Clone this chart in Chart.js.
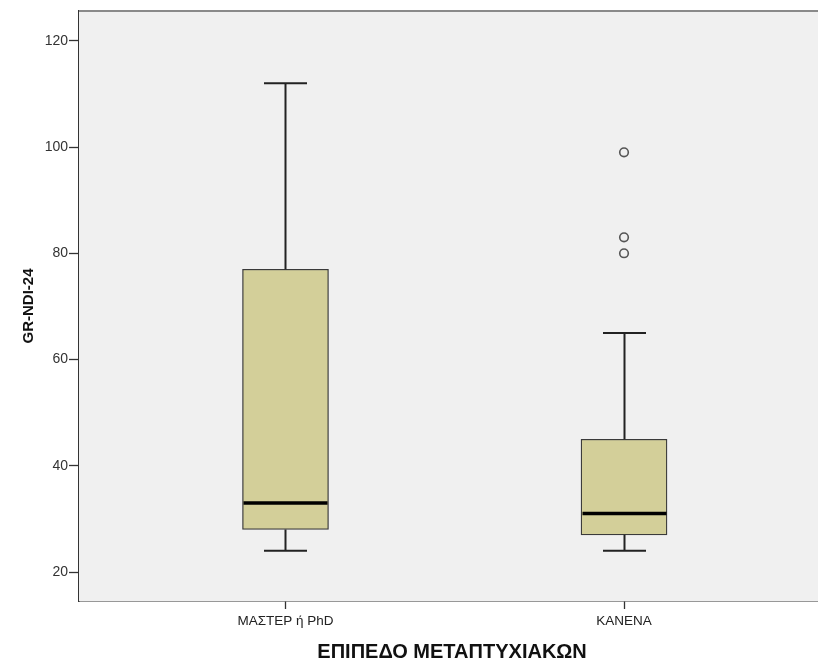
<!DOCTYPE html>
<html>
<head>
<meta charset="utf-8">
<script src="https://cdn.jsdelivr.net/npm/chart.js@4.4.1/dist/chart.umd.min.js"></script>
<style>
html,body{margin:0;padding:0;background:#fff;overflow:hidden;width:818px;height:661px;}
canvas{display:block;}
</style>
</head>
<body>
<canvas id="c" width="831" height="661"></canvas>
<script>
const categories = ["ΜΑΣΤΕΡ ή PhD", "ΚΑΝΕΝΑ"];
const whiskerLow = [24, 24];
const q1 = [28, 27];
const median = [33, 31];
const q3 = [77, 45];
const whiskerHigh = [112, 65];
const outlierCategory = [1, 1, 1];
const outlierValues = [99, 83, 80];
const yTicks = [20, 40, 60, 80, 100, 120];

const boxData = categories.map((c, i) => ({ x: i, y: [q1[i], q3[i]] }));
const outlierData = outlierValues.map((v, i) => ({ x: outlierCategory[i], y: v }));

const plotBg = {
  id: 'plotBg',
  beforeDatasetsDraw(chart) {
    const { ctx, chartArea: a } = chart;
    ctx.save();
    ctx.fillStyle = '#F0F0F0';
    ctx.fillRect(a.left, a.top, a.right - a.left, a.bottom - a.top);
    ctx.strokeStyle = '#8a8a8a';
    ctx.lineWidth = 2;
    ctx.beginPath();
    ctx.moveTo(a.left, a.top);
    ctx.lineTo(a.right + 20, a.top);
    ctx.stroke();
    ctx.restore();
  }
};

const boxExtras = {
  id: 'boxExtras',
  afterDatasetsDraw(chart) {
    const { ctx, scales: { x, y } } = chart;
    const boxW = 86, capW = 43;
    ctx.save();
    categories.forEach((c, i) => {
      const cx = Math.round(x.getPixelForValue(i)) + 0.5;
      ctx.strokeStyle = '#222';
      ctx.lineWidth = 2;
      ctx.beginPath();
      ctx.moveTo(cx, y.getPixelForValue(q3[i]));
      ctx.lineTo(cx, y.getPixelForValue(whiskerHigh[i]));
      ctx.moveTo(cx, y.getPixelForValue(q1[i]));
      ctx.lineTo(cx, y.getPixelForValue(whiskerLow[i]));
      ctx.stroke();
      ctx.beginPath();
      const yh = y.getPixelForValue(whiskerHigh[i]);
      const yl = y.getPixelForValue(whiskerLow[i]);
      ctx.moveTo(cx - capW / 2, yh); ctx.lineTo(cx + capW / 2, yh);
      ctx.moveTo(cx - capW / 2, yl); ctx.lineTo(cx + capW / 2, yl);
      ctx.stroke();
      ctx.strokeStyle = '#000';
      ctx.lineWidth = 3.5;
      ctx.beginPath();
      const ym = y.getPixelForValue(median[i]);
      ctx.moveTo(cx - boxW / 2 + 1, ym); ctx.lineTo(cx + boxW / 2 - 1, ym);
      ctx.stroke();
    });
    ctx.restore();
  }
};

new Chart(document.getElementById('c'), {
  type: 'bar',
  data: {
    datasets: [
      {
        type: 'bar',
        data: boxData,
        backgroundColor: '#D3CF99',
        borderColor: '#3a3a3a',
        borderWidth: 1.3,
        borderSkipped: false,
        barThickness: 86,
        order: 2
      },
      {
        type: 'scatter',
        data: outlierData,
        pointStyle: 'circle',
        pointRadius: 4.3,
        pointBackgroundColor: 'rgba(0,0,0,0)',
        pointBorderColor: '#555',
        pointBorderWidth: 1.6,
        order: 1
      }
    ]
  },
  options: {
    responsive: false,
    animation: false,
    events: [],
    layout: { padding: { top: 11, right: 0, left: 0, bottom: 0 } },
    plugins: { legend: { display: false }, tooltip: { enabled: false } },
    scales: {
      x: {
        type: 'linear',
        offset: false,
        min: -0.61,
        max: 1.594,
        afterBuildTicks(scale) { scale.ticks = categories.map((c, i) => ({ value: i })); },
        afterFit(scale) { scale.height = 60; },
        grid: { offset: false, drawOnChartArea: false, drawTicks: true, tickLength: 8, tickColor: '#333', tickWidth: 1.3 },
        border: { display: true, color: '#333', width: 1.5 },
        ticks: {
          autoSkip: false,
          maxRotation: 0,
          padding: 4,
          color: '#222',
          font: { family: 'Liberation Sans, Arial, sans-serif', size: 13.5 },
          callback(v) { return categories[v] !== undefined ? categories[v] : ''; }
        },
        title: {
          display: true,
          text: 'ΕΠΙΠΕΔΟ ΜΕΤΑΠΤΥΧΙΑΚΩΝ',
          color: '#111',
          font: { family: 'Liberation Sans, Arial, sans-serif', size: 20, weight: 'bold', lineHeight: 0.9 },
          padding: { top: 0, bottom: 0 }
        }
      },
      y: {
        type: 'linear',
        min: 14.55,
        max: 125.6,
        afterBuildTicks(scale) { scale.ticks = yTicks.map(v => ({ value: v })); },
        afterFit(scale) { scale.width = 79; },
        grid: { drawOnChartArea: false, drawTicks: true, tickLength: 10, tickColor: '#333', tickWidth: 1.3 },
        border: { display: true, color: '#333', width: 1.5 },
        ticks: {
          padding: 1,
          color: '#333',
          font: { family: 'Liberation Sans, Arial, sans-serif', size: 14 }
        },
        title: {
          display: true,
          text: 'GR-NDI-24',
          color: '#111',
          font: { family: 'Liberation Sans, Arial, sans-serif', size: 15, weight: 'bold' },
          padding: { top: 20, bottom: 0 }
        }
      }
    }
  },
  plugins: [plotBg, boxExtras]
});
</script>
</body>
</html>
